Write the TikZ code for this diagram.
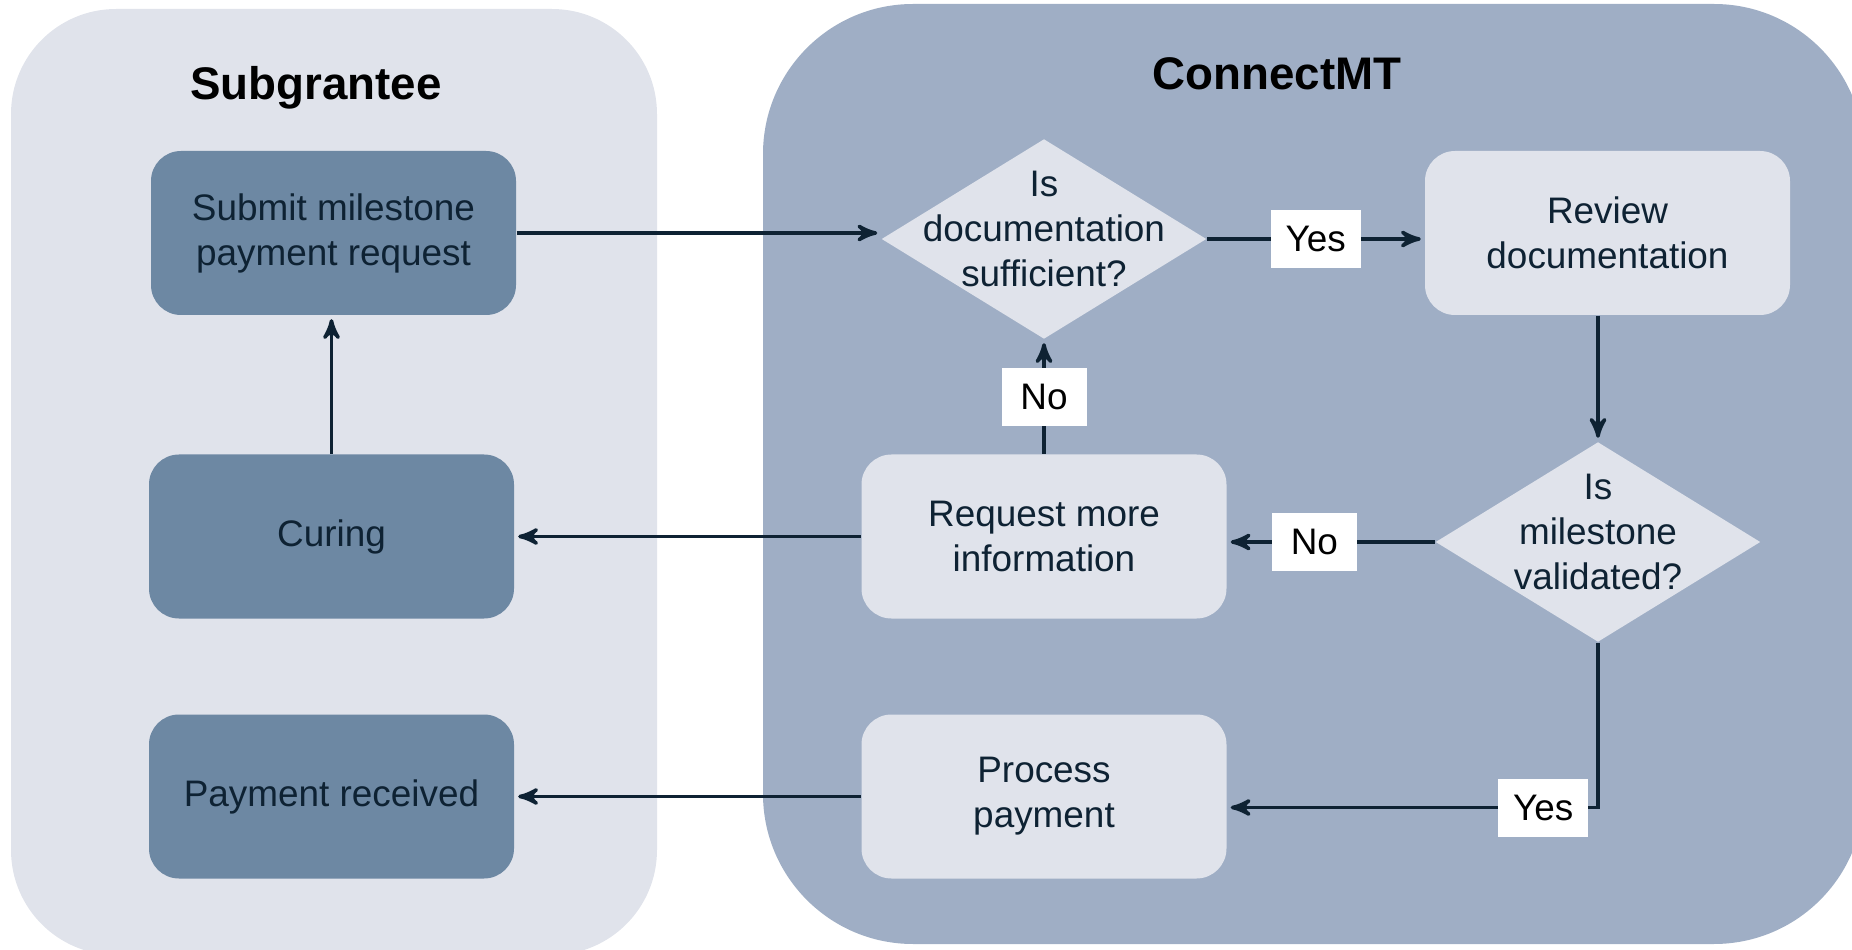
\documentclass[tikz,border=0pt]{standalone}
\usepackage{fontspec}
\setmainfont{Liberation Sans}
\usepackage{tikz}
\usetikzlibrary{
        arrows,
        positioning,
        shapes,
        shapes.geometric
    }
\definecolor{lanelight}{HTML}{E0E3EB}
\definecolor{lanedark}{HTML}{9FAEC5}
\definecolor{stepdark}{HTML}{6D88A3}
\definecolor{steplight}{HTML}{E0E3EB}
\definecolor{ink}{HTML}{0E2233}
\tikzset{>=stealth',shorten >=1pt,node distance=2cm}
\tikzset{
    darkstep/.style={rectangle,rounded corners=0.3cm,fill=stepdark,text=ink,
        minimum width=3.65cm,minimum height=1.64cm,align=center,
        font=\fontsize{10.5}{12.8}\selectfont},
    lightstep/.style={darkstep,fill=steplight},
    decision/.style={diamond,fill=steplight,inner sep=0pt,
        minimum width=3.25cm,minimum height=2cm},
    decisiontext/.style={align=center,text=ink,yshift=0.1cm,
        font=\fontsize{10.5}{12.8}\selectfont},
    answer/.style={rectangle,fill=white,text=black,inner xsep=0.15cm,
        minimum width=0.85cm,minimum height=0.58cm,
        font=\fontsize{10.5}{12.8}\selectfont},
    lanetitle/.style={anchor=base,text=black,font=\fontsize{13}{15}\selectfont\bfseries}
}

\begin{document}
\begin{tikzpicture}[y=-1cm,>=stealth',shorten >=1pt,node distance=2.6cm]
    \useasboundingbox (0,0) rectangle (18.52,9.5);
    % swimlanes
    \begin{scope}
        \clip (0,0) rectangle (18.52,9.5);
        \fill[lanelight,rounded corners=1.05cm] (0.11,0.09) rectangle (6.57,9.55);
        \fill[lanedark,rounded corners=1.5cm] (7.63,0.04) rectangle (18.64,9.44);
    \end{scope}
    \node[lanetitle] (subtitle) at (3.16,1.0) {Subgrantee};
    \node[lanetitle] (cmttitle) at (12.77,0.9) {ConnectMT};

    % subgrantee steps
    \node[darkstep] (sub) at (3.335,2.33) {Submit milestone\\payment request};
    \node[darkstep] (cur) at (3.315,5.365) {Curing};
    \node[darkstep] (pay) [below of=cur] {Payment received};

    % connectmt steps
    \node[decision,label={[decisiontext]center:Is\\documentation\\sufficient?}] (d1) at (10.44,2.39) {};
    \node[lightstep] (rev) at (16.075,2.33) {Review\\documentation};
    \node[decision,label={[decisiontext]center:Is\\milestone\\validated?}] (d2) at (15.98,5.42) {};
    \node[lightstep] (req) at (10.44,5.365) {Request more\\information};
    \node[lightstep] (proc) [below of=req] {Process\\payment};

    \path[->,color=ink,line width=1pt]
        (sub.east)  edge (sub.east -| d1.west)
        (d1.east)   edge node[answer] {Yes} (d1.east -| rev.west)
        (d2.north |- rev.south) edge (d2.north)
        (d2.west)   edge node[answer,pos=0.58] {No} (d2.west -| req.east)
        (req.north) edge node[answer] {No} (d1.south)
        (req.west)  edge (req.west -| cur.east)
        (cur.north) edge (cur.north |- sub.south)
        (proc.west) edge (proc.west -| pay.east)
    ;
    \draw[->,draw=ink,line width=1pt] (d2.south) |- node[answer,pos=0.574] {Yes} ([yshift=-0.11cm]proc.east);
\end{tikzpicture}
\end{document}
